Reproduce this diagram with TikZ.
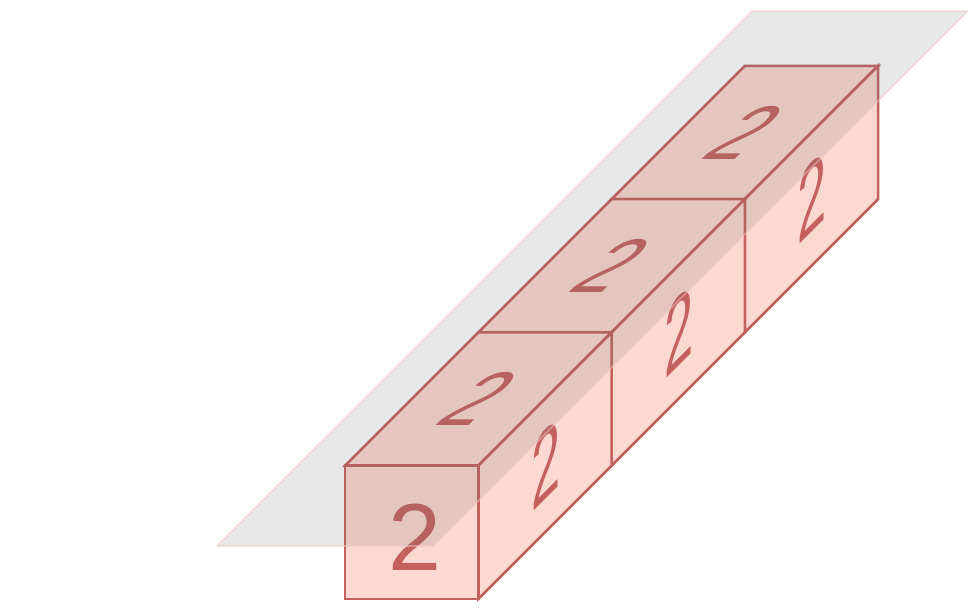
\documentclass[tikz,border=0pt]{standalone}
\usepackage{fontspec}
\setmainfont{Liberation Sans}
\definecolor{cubeline}{HTML}{C4605E}
\definecolor{cubefill}{HTML}{FCD9D0}
\definecolor{planegray}{HTML}{6E6E6E}
\definecolor{planeline}{HTML}{F4C7C3}
\tikzset{
  face/.style={draw=cubeline, fill=cubefill, line width=1.6pt, line join=miter},
  digit/.style={text=cubeline, font=\fontsize{61}{61}\selectfont, inner sep=0pt, transform shape},
  topdigit/.style={digit, cm={0.76,0,0.8,0.8,(0,0)}},
  sidedigit/.style={digit, cm={0.55,0.55,0,1.05,(0,0)}},
  plane/.style={fill=planegray, fill opacity=0.17, draw=planeline, draw opacity=0.5, line width=1pt}
}
\begin{document}
\begin{tikzpicture}
    \useasboundingbox (-7.767,-0.248) rectangle (14.025,13.485);

    % --- Cubes (back to front) ---
    \foreach \i in {2,1,0} {
        % top face
        \draw[face] (3*\i,3*\i+3) -- (3*\i+3,3*\i+3) -- (3*\i+6,3*\i+6) -- (3*\i+3,3*\i+6) -- cycle;
        \node[topdigit] (top\i) at (3*\i+3.02,3*\i+4.5) {2};
        % right face
        \draw[face] (3*\i+3,3*\i) -- (3*\i+6,3*\i+3) -- (3*\i+6,3*\i+6) -- (3*\i+3,3*\i+3) -- cycle;
        \node[sidedigit] (side\i) at (3*\i+4.52,3*\i+3.04) {2};
    }

    % --- Front face ---
    \draw[face] (0,0) rectangle (3,3);
    \node[digit] (front) at (1.57,1.38) {2};

    % --- Plane (on top of everything) ---
    \draw[plane] (-2.882,1.193) -- (9.163,13.237) -- (14.025,13.237) -- (1.981,1.193) -- cycle;
\end{tikzpicture}
\end{document}
